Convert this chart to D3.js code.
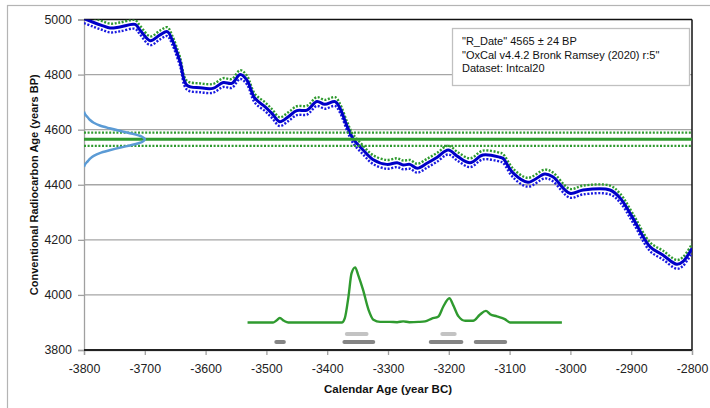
<!DOCTYPE html>
<html>
<head>
<meta charset="utf-8">
<script src="https://cdn.jsdelivr.net/npm/d3@7"></script>
<style>
  body { margin: 0; background: #fff; }
  text { font-family: "Liberation Sans", Arial, sans-serif; }
</style>
</head>
<body>
<div id="chart"></div>
<script>
// calibration curve (IntCal20)
var calYears = [-3800, -3785, -3770, -3757, -3741, -3716, -3708, -3691, -3675, -3663,
  -3655, -3642, -3631, -3609, -3588, -3571, -3557, -3543, -3532, -3519,
  -3502, -3491, -3478, -3464, -3450, -3433, -3417, -3404, -3387, -3379,
  -3367, -3358, -3341, -3325, -3302, -3285, -3275, -3264, -3252, -3236,
  -3219, -3201, -3185, -3165, -3144, -3116, -3111, -3094, -3070, -3042,
  -3029, -3001, -2979, -2935, -2918, -2897, -2869, -2848, -2825, -2815, -2800];
var calBP = [5003, 4990, 4978, 4969, 4973, 4982, 4962, 4923, 4944, 4956,
  4926, 4847, 4762, 4752, 4750, 4771, 4768, 4800, 4780, 4714,
  4683, 4659, 4629, 4647, 4669, 4671, 4702, 4692, 4702, 4678,
  4611, 4569, 4526, 4492, 4474, 4480, 4472, 4474, 4460, 4478,
  4500, 4526, 4502, 4480, 4508, 4500, 4496, 4442, 4409, 4439,
  4429, 4369, 4381, 4381, 4351, 4278, 4175, 4145, 4111, 4121, 4169];
var calSigma = 16;

// radiocarbon date
var rDate = 4565, rErr = 24;
var dateBP = [4465, 4475, 4485, 4495, 4505, 4515, 4525, 4535, 4545, 4555, 4565,
  4575, 4585, 4595, 4605, 4615, 4625, 4635, 4645, 4655, 4665];
var dateDens = [0, 0.02, 0.06, 0.10, 0.16, 0.26, 0.42, 0.60, 0.80, 0.95, 1,
  0.95, 0.80, 0.60, 0.42, 0.26, 0.16, 0.10, 0.06, 0.02, 0];

// calibrated distribution
var postYears = [-3531, -3489, -3484, -3478, -3471, -3464, -3376, -3371, -3365, -3360,
  -3354, -3349, -3341, -3332, -3324, -3313, -3297, -3285, -3275, -3265,
  -3250, -3239, -3228, -3217, -3209, -3199, -3193, -3184, -3173, -3160,
  -3149, -3139, -3132, -3121, -3108, -3099, -3014];
var postDens = [0, 0, 0.03, 0.08, 0.03, 0, 0, 0.08, 0.47, 0.89,
  1, 0.86, 0.59, 0.23, 0.05, 0.01, 0.01, 0.005, 0.02, 0.005,
  0.01, 0.02, 0.07, 0.11, 0.29, 0.44, 0.32, 0.11, 0.03, 0.03,
  0.14, 0.21, 0.15, 0.11, 0.06, 0, 0];

// 68.2% and 95.4% ranges
var range68 = [[-3371, -3332], [-3214, -3187]];
var range95 = [[-3487, -3468], [-3375, -3321], [-3233, -3176], [-3159, -3104]];

var xTickValues = [-3800, -3700, -3600, -3500, -3400, -3300, -3200, -3100, -3000, -2900, -2800];
var yTickValues = [3800, 4000, 4200, 4400, 4600, 4800, 5000];
var legendLines = ['"R_Date" 4565 \u00b1 24 BP', '"OxCal v4.4.2 Bronk Ramsey (2020) r:5"', 'Dataset: Intcal20'];

var W = 710, H = 408,
  margin = {top: 19.5, left: 84},
  width = 608, height = 330.5;

var svg = d3.select('#chart').append('svg')
  .attr('width', W).attr('height', H);

// outer frame (cut at right / bottom like the picture)
svg.append('rect')
  .attr('x', 7.5).attr('y', 5.5).attr('width', 720).attr('height', 420)
  .attr('fill', 'none').attr('stroke', '#b4b4b4').attr('stroke-width', 1.2);

var g = svg.append('g').attr('transform', 'translate(' + margin.left + ',' + margin.top + ')');

var x = d3.scaleLinear().domain([-3800, -2800]).range([0, width]);
var y = d3.scaleLinear().domain([3800, 5000]).range([height, 0]);

g.append('clipPath').attr('id', 'plot')
  .append('rect').attr('width', width).attr('height', height);

// gridlines
g.selectAll('.grid').data(yTickValues.filter(function(d) { return d > 3800 && d < 5000; }))
  .enter().append('line')
  .attr('x1', 0).attr('x2', width)
  .attr('y1', function(d) { return y(d); }).attr('y2', function(d) { return y(d); })
  .attr('stroke', '#a6a6a6').attr('stroke-width', 1.3);

// y axis
var yAxis = g.append('g')
  .call(d3.axisLeft(y).tickValues(yTickValues).tickSize(6).tickPadding(6).tickFormat(d3.format('d')));
yAxis.select('.domain').attr('stroke', '#a0a0a0').attr('stroke-width', 1.3);
yAxis.selectAll('.tick line').attr('stroke', '#a0a0a0').attr('stroke-width', 1.3);
yAxis.selectAll('text').attr('font-size', '12.4px').attr('fill', '#222');

// x axis
var xAxis = g.append('g').attr('transform', 'translate(0,' + height + ')')
  .call(d3.axisBottom(x).tickValues(xTickValues).tickSize(5).tickPadding(9)
    .tickFormat(function(d) { return String(d).replace('\u2212', '-'); }));
xAxis.select('.domain').attr('stroke', '#a0a0a0').attr('stroke-width', 1.3);
xAxis.selectAll('.tick line').attr('stroke', '#a0a0a0').attr('stroke-width', 1.3);
xAxis.selectAll('text').attr('font-size', '12.4px').attr('fill', '#222');

// black frame lines: top, right, bottom
g.append('line').attr('x1', 0).attr('x2', width).attr('y1', 0).attr('y2', 0)
  .attr('stroke', '#111').attr('stroke-width', 1.5);
g.append('line').attr('x1', width).attr('x2', width).attr('y1', 0).attr('y2', height)
  .attr('stroke', '#111').attr('stroke-width', 1.5);
g.append('line').attr('x1', 0).attr('x2', width).attr('y1', height).attr('y2', height)
  .attr('stroke', '#222').attr('stroke-width', 2);

var plot = g.append('g').attr('clip-path', 'url(#plot)');

var calData = calYears.map(function(yr, i) { return {yr: yr, bp: calBP[i]}; });

function curveLine(off) {
  return d3.line()
    .x(function(d) { return x(d.yr); })
    .y(function(d) { return y(d.bp + off); })
    .curve(d3.curveCatmullRom);
}

plot.append('path').datum(calData)
  .attr('d', curveLine(calSigma))
  .attr('fill', 'none').attr('stroke', '#2f9a2f').attr('stroke-width', 2.4)
  .attr('stroke-dasharray', '2,1.6');
plot.append('path').datum(calData)
  .attr('d', curveLine(-calSigma))
  .attr('fill', 'none').attr('stroke', '#1a1ae0').attr('stroke-width', 2.4)
  .attr('stroke-dasharray', '2,1.6');
plot.append('path').datum(calData)
  .attr('d', curveLine(0))
  .attr('fill', 'none').attr('stroke', '#0000c8').attr('stroke-width', 3);

// R_Date lines
[[rDate + rErr, true], [rDate, false], [rDate - rErr, true]].forEach(function(r) {
  plot.append('line')
    .attr('x1', 0).attr('x2', width)
    .attr('y1', y(r[0])).attr('y2', y(r[0]))
    .attr('stroke', '#2f9a2f')
    .attr('stroke-width', r[1] ? 2.2 : 3)
    .attr('stroke-dasharray', r[1] ? '2,1.6' : null);
});

// radiocarbon date distribution on the y axis
var dateData = dateBP.map(function(bp, i) { return {bp: bp, d: dateDens[i]}; });
plot.append('path').datum(dateData)
  .attr('d', d3.line()
    .x(function(d) { return x(-3800 + d.d * 100); })
    .y(function(d) { return y(d.bp); })
    .curve(d3.curveMonotoneY))
  .attr('fill', 'none').attr('stroke', '#5b9bd5').attr('stroke-width', 2.5);

// calibrated distribution
var postData = postYears.map(function(yr, i) { return {yr: yr, d: postDens[i]}; });
plot.append('path').datum(postData)
  .attr('d', d3.line()
    .x(function(d) { return x(d.yr); })
    .y(function(d) { return y(3900 + d.d * 200); })
    .curve(d3.curveMonotoneX))
  .attr('fill', 'none').attr('stroke', '#2f9a2f').attr('stroke-width', 2.4);

// range bars
plot.selectAll('.r68').data(range68).enter().append('rect')
  .attr('x', function(d) { return x(d[0]); })
  .attr('width', function(d) { return x(d[1]) - x(d[0]); })
  .attr('y', y(3858) - 2).attr('height', 4).attr('rx', 2)
  .attr('fill', '#c3c3c3');
plot.selectAll('.r95').data(range95).enter().append('rect')
  .attr('x', function(d) { return x(d[0]); })
  .attr('width', function(d) { return x(d[1]) - x(d[0]); })
  .attr('y', y(3829) - 2).attr('height', 4).attr('rx', 2)
  .attr('fill', '#858585');

// legend box
var leg = svg.append('g');
leg.append('rect').attr('x', 452.5).attr('y', 28.5).attr('width', 237).attr('height', 57)
  .attr('fill', '#fff').attr('stroke', '#c0c0c0').attr('stroke-width', 1.3);
leg.selectAll('text').data(legendLines).enter().append('text')
  .attr('x', 462).attr('y', function(d, i) { return 45 + i * 13.5; })
  .attr('font-size', '11px').attr('fill', '#111')
  .text(function(d) { return d; });

// axis titles
svg.append('text')
  .attr('transform', 'translate(38,' + (margin.top + height / 2) + ') rotate(-90)')
  .attr('text-anchor', 'middle').attr('font-size', '11px').attr('font-weight', 'bold')
  .attr('fill', '#111')
  .text('Conventional Radiocarbon Age (years BP)');
svg.append('text')
  .attr('x', margin.left + width / 2).attr('y', 393)
  .attr('text-anchor', 'middle').attr('font-size', '11.5px').attr('font-weight', 'bold')
  .attr('fill', '#111')
  .text('Calendar Age (year BC)');
</script>
</body>
</html>
